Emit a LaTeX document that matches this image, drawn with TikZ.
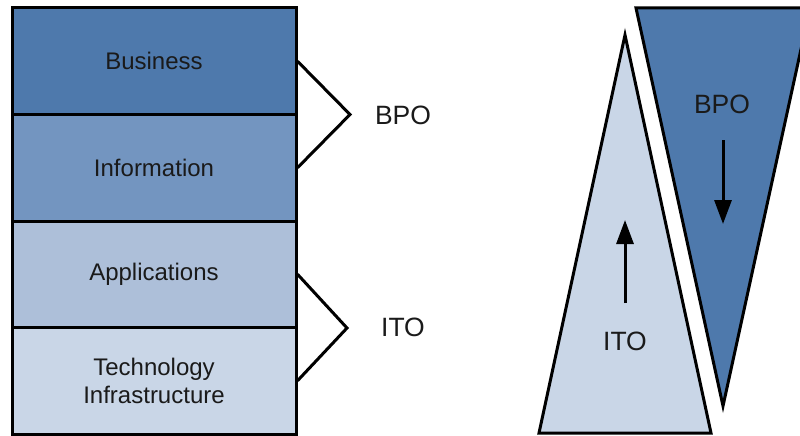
\documentclass[tikz,border=0pt]{standalone}
\usepackage{fontspec}
\setmainfont{Liberation Sans}
\usetikzlibrary{arrows.meta}
\definecolor{cbus}{HTML}{4E79AC}
\definecolor{cinf}{HTML}{7395C0}
\definecolor{capp}{HTML}{ADBFD9}
\definecolor{ctec}{HTML}{C9D6E7}
\definecolor{ctxt}{HTML}{1A1A1A}
\begin{document}
\begin{tikzpicture}[x=1pt,y=-1pt,
  layer/.style={draw=black, line width=3pt, minimum width=284pt, minimum height=106.5pt,
    inner sep=0pt, font=\fontsize{24}{28}\selectfont, align=center, text=ctxt},
  bracket/.style={draw=black, line width=3pt},
  lbl/.style={font=\fontsize{26.5}{30}\selectfont, text=ctxt, inner sep=0pt},
  tri/.style={draw=black, line width=3pt, line join=miter},
  flow/.style={draw=black, line width=3pt, -{Triangle[length=24pt,width=17pt]}}]
\useasboundingbox (0,0) rectangle (800,436);
\clip (0,0) rectangle (800,436);
% layered stack
\node[layer, fill=cbus] (bus) at (154,61.25) {Business};
\node[layer, fill=cinf] (inf) at (154,167.75) {Information};
\node[layer, fill=capp] (app) at (154,274.25) {Applications};
\node[layer, fill=ctec] (tec) at (154,380.75) {Technology\\Infrastructure};
% brackets
\coordinate (bpotip) at (350,114.5);
\coordinate (itotip) at (347,328);
\draw[bracket] (bus.east) -- (bpotip) -- (inf.east);
\draw[bracket] (app.east) -- (itotip) -- (tec.east);
\node[lbl] (bpolbl) at (403,115) {BPO};
\node[lbl] (itolbl) at (403,327) {ITO};
% triangles
\filldraw[tri, fill=ctec] (539,433) -- (625,35) -- (711,433) -- cycle;
\filldraw[tri, fill=cbus] (636,8) -- (810,8) -- (723,406) -- cycle;
\node[lbl] (itotri) at (625,341) {ITO};
\node[lbl] (bpotri) at (722,104) {BPO};
\coordinate (ua) at (625,303);
\coordinate (ub) at (625,220);
\coordinate (da) at (723,140);
\coordinate (db) at (723,224);
\draw[flow] (ua) -- (ub);
\draw[flow] (da) -- (db);
\end{tikzpicture}
\end{document}
